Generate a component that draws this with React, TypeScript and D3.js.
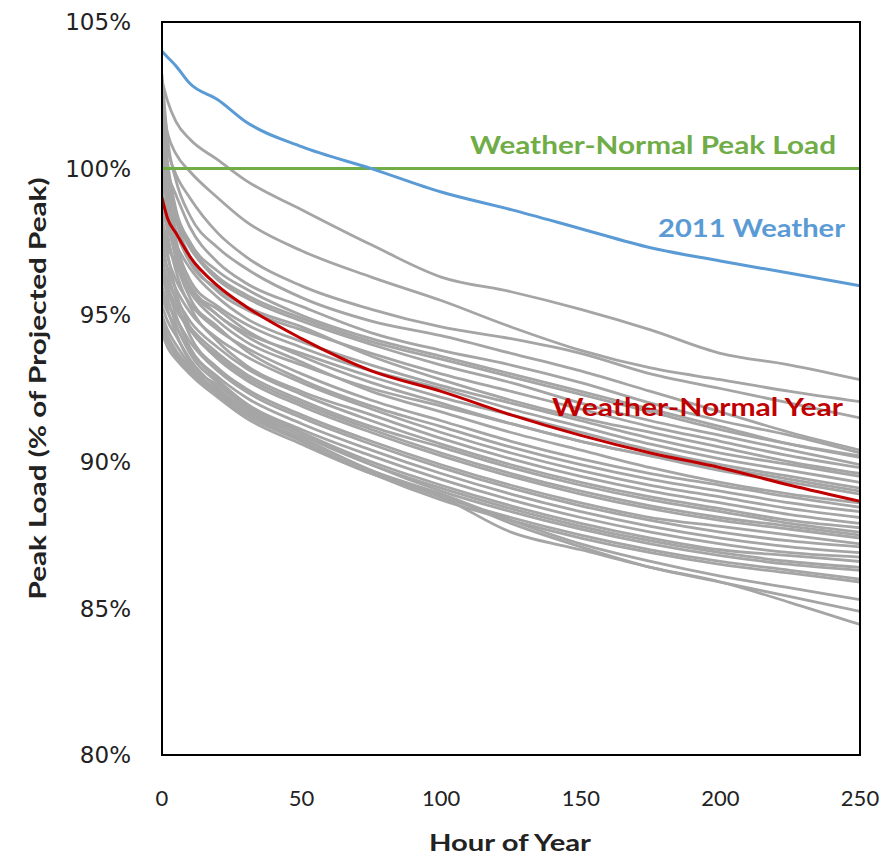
import React from "react";
import * as d3 from "d3";

const hours = [0, 2, 5, 10, 20, 30, 50, 75, 100, 125, 150, 175, 200, 225, 250];

const weatherNormalYear = [99.0, 98.3, 97.8, 97.0, 96.0, 95.3, 94.2, 93.1, 92.4, 91.6, 90.9, 90.3, 89.8, 89.2, 88.65];
const weather2011 = [104.0, 103.8, 103.5, 102.9, 102.35, 101.6, 100.75, 100.0, 99.2, 98.6, 97.95, 97.3, 96.85, 96.43, 96.0];
const peakLoadHours = [0, 250];
const peakLoad = [100, 100];

const historicalYears: number[][] = [
  [103.0, 102.3, 101.6, 101.0, 100.3, 99.6, 98.6, 97.4, 96.3, 95.8, 95.2, 94.5, 93.7, 93.3, 92.8],
  [102.2, 101.2, 100.5, 99.9, 99.0, 98.2, 97.2, 96.3, 95.5, 94.6, 93.8, 93.2, 92.8, 92.4, 92.05],
  [101.5, 100.6, 99.8, 99.0, 97.8, 97.0, 96.0, 95.2, 94.6, 94.2, 93.7, 93.0, 92.5, 92.0, 91.5],
  [103.2, 101.0, 99.6, 98.4, 97.3, 96.6, 95.6, 94.8, 94.3, 93.7, 93.1, 92.4, 91.7, 91.0, 90.4],
  [100.4, 99.8, 99.1, 98.0, 96.8, 96.1, 95.3, 94.4, 93.8, 93.3, 92.7, 92.0, 91.4, 90.9, 90.3],
  [101.8, 100.2, 98.6, 97.5, 96.5, 95.9, 95.0, 94.2, 93.6, 93.0, 92.4, 91.8, 91.2, 90.6, 90.15],
  [99.6, 98.9, 98.2, 97.3, 96.2, 95.6, 94.8, 94.0, 93.3, 92.7, 92.0, 91.4, 90.9, 90.4, 89.9],
  [102.5, 100.0, 98.3, 97.0, 95.8, 95.2, 94.5, 93.7, 93.0, 92.4, 91.8, 91.2, 90.7, 90.2, 89.8],
  [100.0, 99.2, 97.9, 96.8, 95.9, 95.3, 94.6, 93.6, 92.8, 92.1, 91.5, 91.0, 90.5, 90.0, 89.6],
  [98.6, 98.0, 97.4, 96.6, 95.6, 94.9, 94.1, 93.3, 92.6, 92.0, 91.4, 90.8, 90.3, 89.9, 89.5],
  [101.0, 99.4, 97.6, 96.2, 95.3, 94.7, 93.9, 93.1, 92.5, 91.8, 91.2, 90.6, 90.1, 89.7, 89.3],
  [97.8, 97.3, 96.8, 96.0, 95.0, 94.4, 93.7, 92.9, 92.2, 91.6, 91.0, 90.4, 89.9, 89.5, 89.1],
  [99.2, 98.2, 97.0, 95.9, 95.2, 94.5, 93.6, 92.7, 92.0, 91.3, 90.7, 90.2, 89.7, 89.3, 88.9],
  [98.0, 97.0, 96.2, 95.4, 94.5, 93.9, 93.0, 92.1, 91.4, 90.7, 90.1, 89.6, 89.2, 88.8, 88.45],
  [100.6, 98.5, 96.9, 95.6, 94.6, 93.8, 92.8, 91.9, 91.2, 90.5, 89.9, 89.4, 89.0, 88.6, 88.3],
  [97.2, 96.6, 95.9, 95.1, 94.2, 93.6, 92.7, 91.8, 91.0, 90.3, 89.7, 89.2, 88.8, 88.4, 88.1],
  [99.4, 97.8, 96.5, 95.3, 94.1, 93.3, 92.4, 91.6, 90.8, 90.1, 89.5, 89.0, 88.6, 88.2, 87.9],
  [96.8, 96.2, 95.6, 94.8, 93.9, 93.2, 92.3, 91.4, 90.6, 89.9, 89.3, 88.8, 88.4, 88.0, 87.75],
  [98.4, 97.1, 95.8, 94.6, 93.6, 92.9, 92.0, 91.1, 90.3, 89.6, 89.0, 88.5, 88.1, 87.8, 87.5],
  [96.3, 95.8, 95.2, 94.5, 93.5, 92.8, 91.9, 91.0, 90.2, 89.5, 88.9, 88.4, 88.0, 87.7, 87.4],
  [97.6, 96.5, 95.5, 94.3, 93.2, 92.5, 91.6, 90.7, 89.9, 89.2, 88.6, 88.1, 87.8, 87.5, 87.2],
  [95.9, 95.4, 94.9, 94.1, 93.1, 92.4, 91.5, 90.6, 89.8, 89.1, 88.5, 88.0, 87.6, 87.3, 87.1],
  [97.0, 96.0, 95.0, 93.9, 92.9, 92.2, 91.3, 90.4, 89.6, 88.9, 88.3, 87.8, 87.4, 87.1, 86.9],
  [95.6, 95.1, 94.6, 93.8, 92.8, 92.0, 91.1, 90.2, 89.4, 88.7, 88.1, 87.6, 87.2, 86.9, 86.75],
  [96.5, 95.6, 94.7, 93.7, 92.7, 91.9, 91.0, 90.0, 89.2, 88.5, 87.9, 87.4, 87.0, 86.8, 86.6],
  [95.3, 94.8, 94.3, 93.5, 92.5, 91.8, 90.9, 89.9, 89.1, 88.4, 87.8, 87.3, 86.9, 86.6, 86.4],
  [96.0, 95.2, 94.4, 93.4, 92.6, 91.9, 91.0, 89.9, 89.0, 88.3, 87.7, 87.2, 86.8, 86.5, 86.3],
  [95.0, 94.5, 94.0, 93.3, 92.4, 91.7, 90.8, 89.7, 88.8, 88.1, 87.5, 87.0, 86.6, 86.3, 86.0],
  [94.8, 94.3, 93.8, 93.2, 92.3, 91.6, 90.7, 89.6, 88.7, 88.0, 87.4, 86.9, 86.5, 86.2, 85.9],
  [94.6, 94.1, 93.6, 93.0, 92.2, 91.5, 90.6, 89.6, 88.9, 88.0, 87.2, 86.6, 86.1, 85.7, 85.3],
  [94.7, 94.2, 93.7, 93.1, 92.3, 91.6, 90.8, 89.7, 88.9, 87.9, 87.1, 86.4, 85.9, 85.4, 84.9],
  [94.4, 93.9, 93.5, 93.0, 92.4, 91.8, 90.7, 89.6, 88.8, 87.6, 87.0, 86.4, 85.9, 85.2, 84.45],
  [98.2, 97.5, 96.7, 95.8, 94.8, 94.1, 93.3, 92.5, 91.9, 91.3, 90.7, 90.2, 89.8, 89.4, 89.0],
  [101.4, 99.0, 97.3, 96.0, 95.0, 94.3, 93.4, 92.4, 91.7, 91.0, 90.4, 89.8, 89.3, 88.9, 88.6],
  [96.6, 96.0, 95.3, 94.6, 93.7, 93.0, 92.1, 91.2, 90.5, 89.8, 89.2, 88.7, 88.3, 87.9, 87.6],
  [100.8, 99.5, 98.4, 97.4, 96.3, 95.7, 94.9, 94.1, 93.5, 92.9, 92.3, 91.7, 91.1, 90.6, 90.2],
];

const xTicks = [0, 50, 100, 150, 200, 250];
const yTicks = [80, 85, 90, 95, 100, 105];

const W = 894;
const H = 857;
const left = 162;
const right = 860;
const top = 22;
const bottom = 755;

export default function App() {
  const x = d3.scaleLinear().domain([0, 250]).range([left, right]);
  const y = d3.scaleLinear().domain([80, 105]).range([bottom, top]);
  const smooth = d3
    .line<[number, number]>()
    .x((d) => x(d[0]))
    .y((d) => y(d[1]))
    .curve(d3.curveMonotoneX);
  const pts = (hs: number[], vs: number[]) => hs.map((h, i) => [h, vs[i]] as [number, number]);

  return (
    <svg width={W} height={H} style={{ position: "absolute", left: 0, top: 0, background: "#fff" }}>
      <defs>
        <clipPath id="plot">
          <rect x={left} y={top} width={right - left} height={bottom - top} />
        </clipPath>
      </defs>
      <rect x={0} y={0} width={W} height={H} fill="#fff" />
      <g clipPath="url(#plot)" fill="none" strokeLinejoin="round" strokeLinecap="round">
        {historicalYears.map((s, i) => (
          <path key={i} d={smooth(pts(hours, s)) || ""} stroke="#A5A5A5" strokeWidth={2.8} />
        ))}
        <path d={smooth(pts(peakLoadHours, peakLoad)) || ""} stroke="#70AD47" strokeWidth={3} />
        <path d={smooth(pts(hours, weather2011)) || ""} stroke="#5B9BD5" strokeWidth={3} />
        <path d={smooth(pts(hours, weatherNormalYear)) || ""} stroke="#C00000" strokeWidth={3} />
      </g>
      <rect x={left} y={top} width={right - left} height={bottom - top} fill="none" stroke="#000" strokeWidth={2} />
      {yTicks.map((t) => (
        <text
          key={t}
          x={131}
          y={y(t)}
          dy="0.36em"
          textAnchor="end"
          fontFamily="DejaVu Sans"
          fontSize={23}
          fill="#222"
        >
          {t}%
        </text>
      ))}
      {xTicks.map((t) => (
        <text
          key={t}
          x={x(t)}
          y={806}
          textAnchor="middle"
          fontFamily="Lato, 'Open Sans', sans-serif"
          fontSize={22}
          fill="#222"
        >
          {t}
        </text>
      ))}
      <text
        x={510}
        y={851}
        textAnchor="middle"
        fontFamily="Lato, 'Open Sans', sans-serif"
        fontWeight="bold"
        fontSize={23}
        fill="#222"
        textLength={162}
        lengthAdjust="spacingAndGlyphs"
      >
        Hour of Year
      </text>
      <text
        transform={`translate(46, ${(top + bottom) / 2}) rotate(-90)`}
        textAnchor="middle"
        fontFamily="Lato, 'Open Sans', sans-serif"
        fontWeight="bold"
        fontSize={23}
        fill="#222"
        textLength={422}
        lengthAdjust="spacingAndGlyphs"
      >
        Peak Load (% of Projected Peak)
      </text>
      <text
        x={836}
        y={154}
        textAnchor="end"
        fontFamily="Lato, 'Open Sans', sans-serif"
        fontWeight="bold"
        fontSize={25}
        fill="#70AD47"
        textLength={366}
        lengthAdjust="spacingAndGlyphs"
      >
        Weather-Normal Peak Load
      </text>
      <text
        x={845}
        y={237}
        textAnchor="end"
        fontFamily="Lato, 'Open Sans', sans-serif"
        fontWeight="bold"
        fontSize={25}
        fill="#5B9BD5"
        textLength={187}
        lengthAdjust="spacingAndGlyphs"
      >
        2011 Weather
      </text>
      <text
        x={843}
        y={416}
        textAnchor="end"
        fontFamily="Lato, 'Open Sans', sans-serif"
        fontWeight="bold"
        fontSize={25}
        fill="#C00000"
        textLength={291}
        lengthAdjust="spacingAndGlyphs"
      >
        Weather-Normal Year
      </text>
    </svg>
  );
}
